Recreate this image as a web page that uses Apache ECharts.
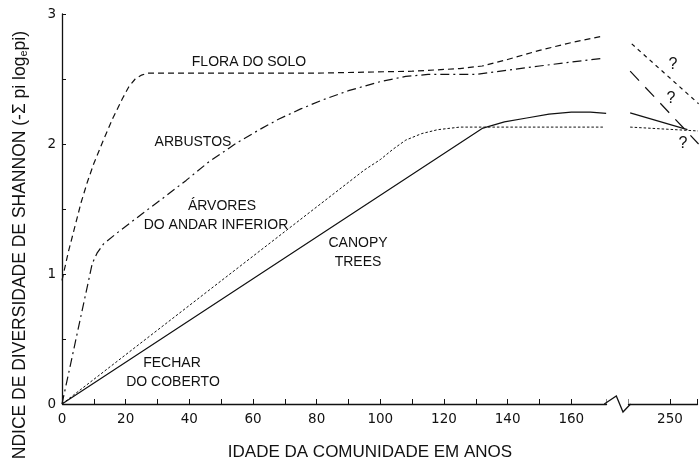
<!DOCTYPE html>
<html>
<head>
<meta charset="UTF-8">
<title>Índice de diversidade de Shannon</title>
<script src="https://cdn.jsdelivr.net/npm/echarts@6.0.0/dist/echarts.min.js"></script>
<style>
  html, body { margin: 0; padding: 0; background: #fff; }
  #chart { width: 700px; height: 467px; }
</style>
</head>
<body>
<div id="chart"></div>
<script>
  // idade (anos) x índice de Shannon
  var floraSolo = [[0, 0.95], [2, 1.17], [4, 1.36], [6, 1.55], [8, 1.71], [10, 1.85], [13, 2.03], [16, 2.2], [19, 2.35], [21, 2.44], [23, 2.5], [25, 2.53], [27, 2.545], [40, 2.545], [80, 2.545], [110, 2.56], [125, 2.58], [132, 2.6], [140, 2.65], [150, 2.72], [160, 2.78], [170, 2.83]];
  var arbustos = [[0, 0], [9.5, 1.08], [11, 1.16], [13, 1.23], [17, 1.31], [25, 1.46], [31, 1.57], [39, 1.72], [46, 1.86], [55, 2.01], [62, 2.11], [68, 2.19], [75, 2.27], [82, 2.34], [90, 2.41], [100, 2.48], [108, 2.52], [115, 2.535], [130, 2.535], [150, 2.6], [170, 2.66]];
  var arvores = [[0, 0], [95, 1.8], [100, 1.88], [104, 1.96], [108, 2.03], [113, 2.08], [118, 2.11], [125, 2.13], [170, 2.13]];
  var canopy = [[0, 0], [132, 2.12], [139, 2.17], [146, 2.2], [153, 2.23], [160, 2.245], [166, 2.245], [171, 2.235]];

  // depois do corte do eixo (incerto)
  var floraFim = [[238, 2.77], [259, 2.31]];
  var arbustosFim = [[237.5, 2.56], [259, 2.0]];
  var canopyFim = [[237.5, 2.24], [255.5, 2.11]];
  var arvoresFim = [[237.5, 2.13], [259, 2.1]];

  var xLabels = [0, 20, 40, 60, 80, 100, 120, 140, 160, 250];
  var yLabels = [0, 1, 2, 3];

  var font = 'Liberation Sans';
  var myChart = echarts.init(document.getElementById('chart'));

  function linha(data, type, width) {
    return {
      type: 'line',
      data: data,
      showSymbol: false,
      symbol: 'none',
      lineStyle: { color: '#111', width: width || 1.2, type: type },
      silent: true
    };
  }

  function texto(t, x, y, size) {
    return {
      type: 'text',
      x: x, y: y,
      style: { text: t, fill: '#111', font: (size || 14) + 'px "' + font + '"', textAlign: 'center', textVerticalAlign: 'middle' }
    };
  }

  var option = {
    animation: false,
    grid: { left: 62, right: 0, top: 14, bottom: 63 },
    xAxis: {
      type: 'value',
      min: 0,
      max: 258.5,
      interval: 10,
      breaks: [{ start: 171, end: 237, gap: 7 }],
      breakArea: {
        show: true,
        itemStyle: { color: '#fff', borderColor: '#fff', borderWidth: 0, opacity: 1 },
        zigzagAmplitude: 0
      },
      axisLine: { lineStyle: { color: '#111', width: 1.3 } },
      axisTick: { inside: true, length: 5, lineStyle: { color: '#111' } },
      splitLine: { show: false },
      axisLabel: {
        color: '#111', fontFamily: 'DejaVu Sans', fontSize: 13.5, margin: 8,
        formatter: function (v) { return xLabels.indexOf(v) >= 0 ? String(v) : ''; }
      }
    },
    yAxis: {
      type: 'value',
      min: 0,
      max: 3,
      interval: 0.5,
      axisLine: { show: true, lineStyle: { color: '#111', width: 1.3 } },
      axisTick: { show: true, inside: true, length: 4, lineStyle: { color: '#111' } },
      splitLine: { show: false },
      axisLabel: {
        color: '#111', fontFamily: 'DejaVu Sans', fontSize: 13.5, margin: 6,
        formatter: function (v) { return yLabels.indexOf(v) >= 0 ? String(v) : ''; }
      }
    },
    series: [
      linha(floraSolo, [6, 4]),
      linha(arbustos, [9, 4, 2, 4]),
      linha(arvores, [2.5, 2], 1),
      linha(canopy, 'solid'),
      linha(floraFim, [4, 4]),
      linha(arbustosFim, [13, 9]),
      linha(canopyFim, 'solid'),
      linha(arvoresFim, [2.5, 2], 1)
    ],
    graphic: [
      texto('FLORA DO SOLO', 249, 62),
      texto('ARBUSTOS', 193, 142),
      texto('ÁRVORES', 222, 206),
      texto('DO ANDAR INFERIOR', 216, 225),
      texto('CANOPY', 358, 243),
      texto('TREES', 358, 262),
      texto('FECHAR', 172, 363),
      texto('DO COBERTO', 173, 382),
      texto('?', 673, 65, 16),
      texto('?', 671, 99, 16),
      texto('?', 683, 144, 16),
      texto('IDADE DA COMUNIDADE EM ANOS', 370, 452, 17),
      {
        type: 'text',
        x: 20, y: 31,
        rotation: Math.PI / 2,
        style: {
          text: 'NDICE DE DIVERSIDADE DE SHANNON (-Σ pi log{sub|e}pi)',
          rich: { sub: { fontSize: 11, verticalAlign: 'bottom', padding: [7, 0, 0, 0], fill: '#111' } },
          fill: '#111', font: '17.5px "' + font + '"', textAlign: 'right', textVerticalAlign: 'middle'
        }
      },
      { id: 'corte', type: 'polyline', z: 300, zlevel: 1, shape: { points: [] }, style: { stroke: '#111', lineWidth: 1.3, fill: null } }
    ]
  };

  myChart.setOption(option);

  // ziguezague do corte no eixo x
  var p0 = myChart.convertToPixel({ xAxisIndex: 0, yAxisIndex: 0 }, [171, 0]);
  var p1 = myChart.convertToPixel({ xAxisIndex: 0, yAxisIndex: 0 }, [237, 0]);
  if (p0 && p1) {
    var w = p1[0] - p0[0];
    myChart.setOption({
      graphic: [{
        id: 'corte',
        shape: { points: [[p0[0] - 2, p0[1]], [p0[0] + w * 0.45, p0[1] - 8], [p0[0] + w * 0.75, p0[1] + 8], [p1[0] + 2, p1[1]]] }
      }]
    });
  }
</script>
</body>
</html>
